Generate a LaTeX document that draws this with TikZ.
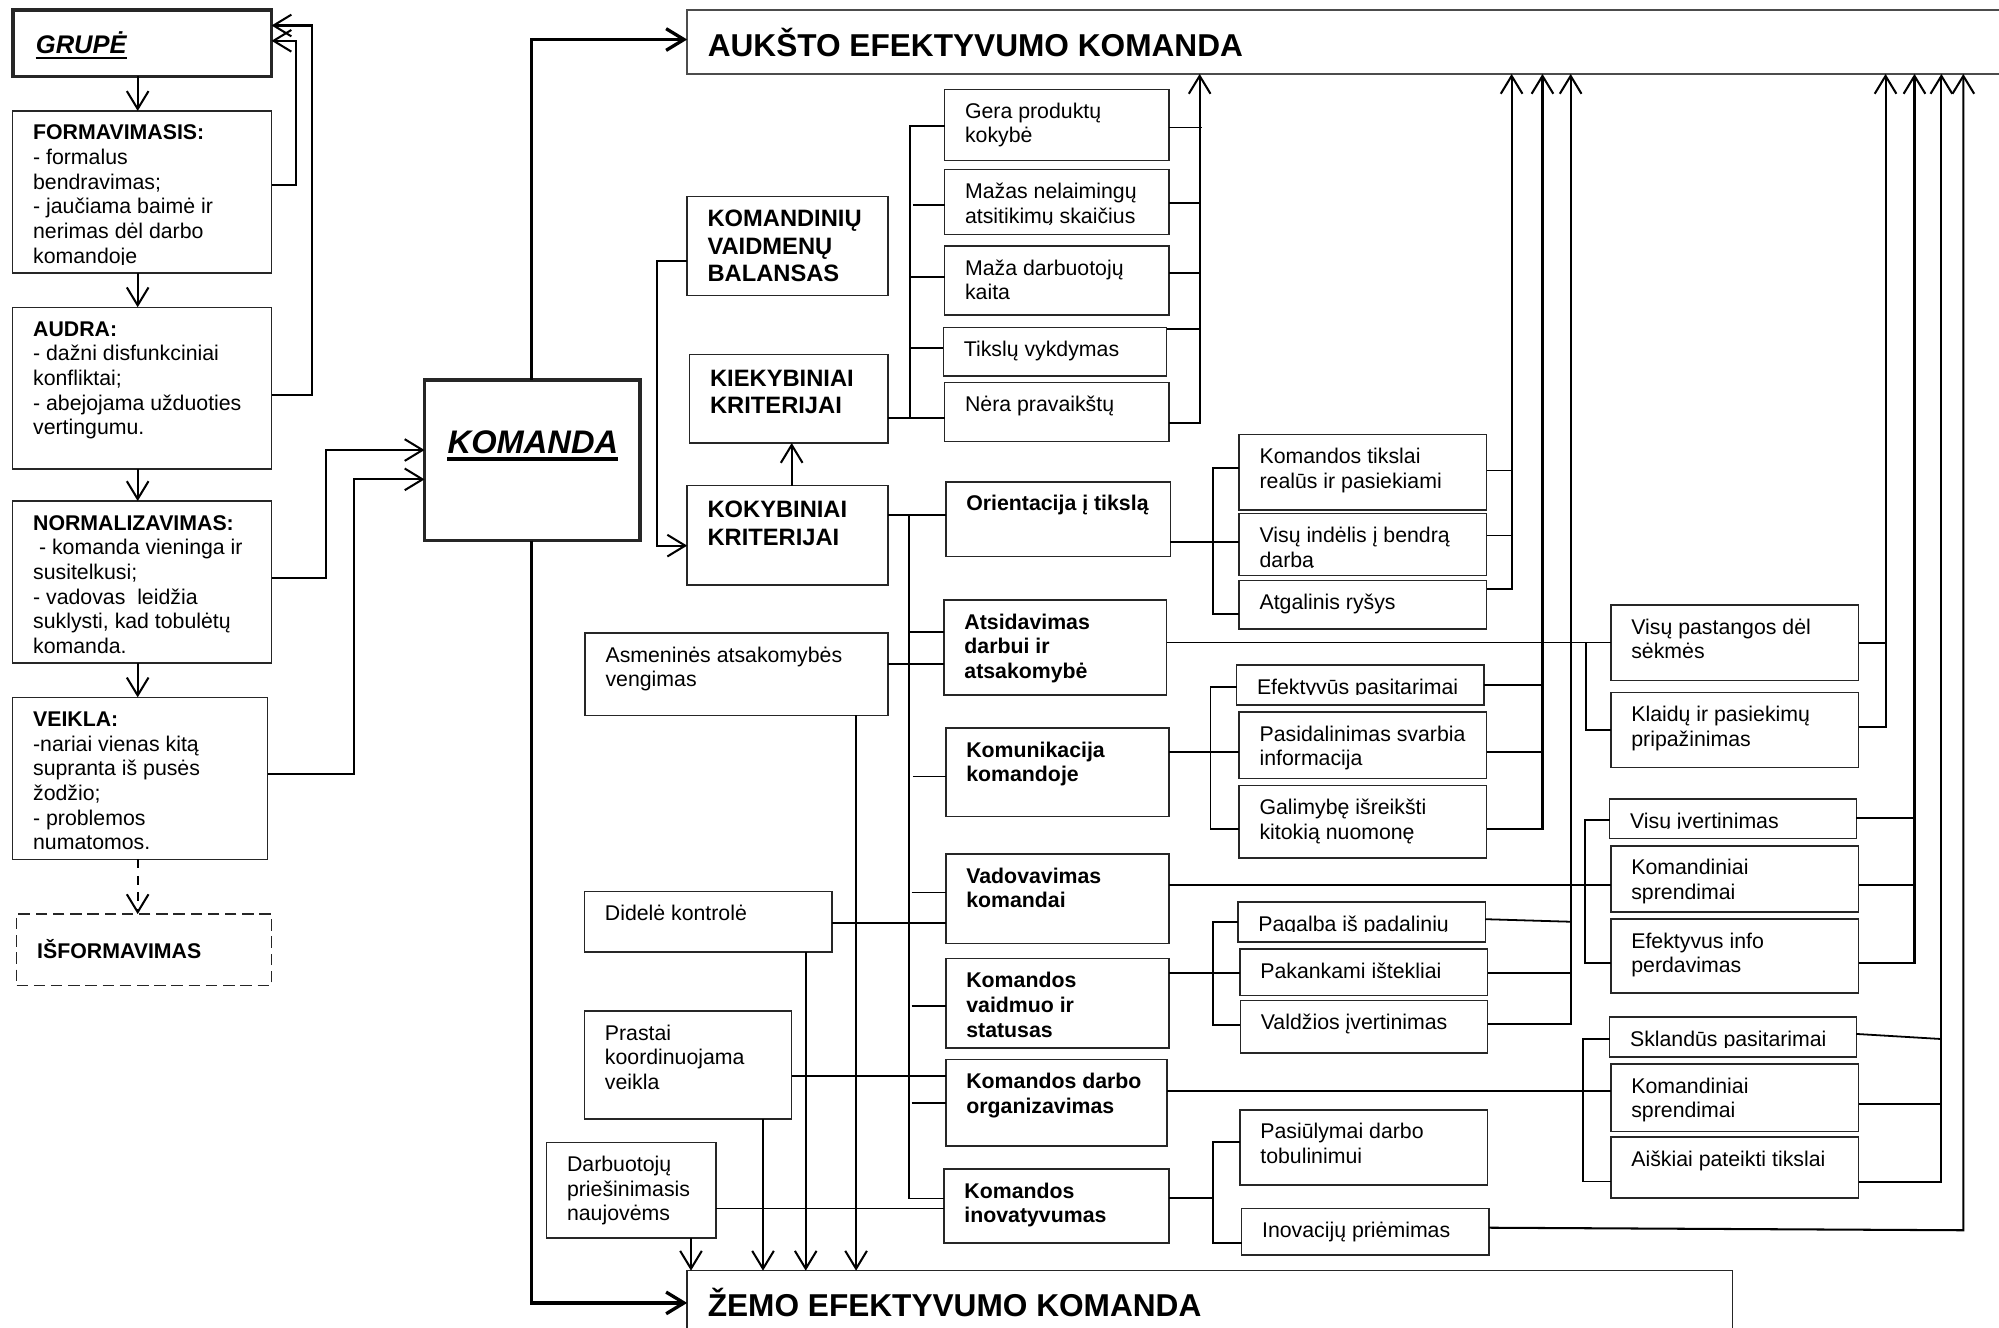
\documentclass[tikz,border=0pt]{standalone}
\usepackage{fontspec}
\setmainfont{Liberation Sans}
\usetikzlibrary{arrows.meta,calc}

% font sizes
\newcommand\bodyf{\fontsize{16.7}{19.35}\selectfont}
\newcommand\headf{\fontsize{18.6}{21.5}\selectfont\bfseries}
\newcommand\bigf{\fontsize{24.8}{30}\selectfont\bfseries}

\tikzset{
  tx/.store in=\tX, ty/.store in=\tY, tf/.store in=\tF, clipin/.store in=\tC,
  box/.style={draw=black!85, line width=1.1pt, anchor=north west, inner sep=0pt,
              outer sep=0pt, tx=16, ty=6.8, tf=\bodyf, clipin=6.5},
  boxtext/.style={path picture={
     \clip ([yshift=\tC*1pt]path picture bounding box.south west) rectangle
           (path picture bounding box.north east);
     \node[anchor=north west, inner sep=0pt, outer sep=0pt, minimum width=0pt,
           minimum height=0pt, draw=none, align=left, font=\tF, path picture={}]
       at ([xshift=\tX*1pt, yshift=-\tY*1pt]path picture bounding box.north west)
       {\rule{0pt}{16pt}#1};
  }},
  link/.style={line width=1.4pt},
  arr/.style={line width=1.6pt, -{Straight Barb[length=14pt,width=17pt]}},
  thickarr/.style={line width=2.6pt, -{Straight Barb[length=14pt,width=17pt]}},
}

% \mkbox[options]{name}{x1}{y1}{x2}{y2}{text}
\newcommand\mkbox[7][]{\node[box,#1,minimum width={(#5-#3)*1pt},
  minimum height={(#6-#4)*1pt},boxtext={#7}] (#2) at (#3,#4) {};}

\begin{document}
\begin{tikzpicture}[x=1pt,y=-1pt]
\useasboundingbox (0,0) rectangle (1568,1041);
\fill[white] (0,0) rectangle (1568,1041);
\clip (0,0) rectangle (1568,1041);

% ---------- group development stages ----------
\node[box, line width=3pt, minimum width=203pt, minimum height=52pt] (grupe) at (10,8) {};
\node[inner sep=0pt, anchor=base west, font=\fontsize{20}{24}\selectfont\bfseries\itshape]
  (grupetxt) at (28,41.8) {GRUPĖ};
\draw[line width=1.6pt] ([yshift=-4pt]grupetxt.base west) -- ([yshift=-4pt]grupetxt.base east);

\mkbox{form}{10}{87}{213}{214}{\textbf{FORMAVIMASIS:}\\- formalus\\bendravimas;\\- jaučiama baimė ir\\nerimas dėl darbo\\komandoje}
\mkbox{audra}{10}{241}{213}{368}{\textbf{AUDRA:}\\- dažni disfunkciniai\\konfliktai;\\- abejojama užduoties\\vertingumu.}
\mkbox{norm}{10}{393}{213}{520}{\textbf{NORMALIZAVIMAS:}\\\ - komanda vieninga ir\\susitelkusi;\\- vadovas\ \ leidžia\\suklysti, kad tobulėtų\\komanda.}
\mkbox{veikla}{10}{547}{210}{674}{\textbf{VEIKLA:}\\-nariai vienas kitą\\supranta iš pusės\\žodžio;\\- problemos\\numatomos.}

\node[box, dash pattern=on 9pt off 4.5pt, minimum width=200pt, minimum height=56pt] (isf) at (13,717) {};
\node[inner sep=0pt, anchor=base west, font=\bodyf\bfseries] (isftxt) at (29,751.7) {IŠFORMAVIMAS};

% ---------- team ----------
\node[box, line width=3pt, minimum width=169pt, minimum height=126pt] (komanda) at (333,298) {};
\node[inner sep=0pt, anchor=base west, font=\fontsize{25.6}{30}\selectfont\bfseries\itshape]
  (komtxt) at (351,355.6) {KOMANDA};
\draw[line width=2.6pt] ([yshift=-4.4pt]komtxt.base west) -- ([yshift=-4.4pt]komtxt.base east);

% ---------- outcomes ----------
\node[box, draw=black!70, line width=1.2pt, minimum width=1100pt, minimum height=50pt] (aukst) at (539,8) {};
\node[inner sep=0pt, anchor=base west, font=\bigf] (aukstxt) at (555,44.4) {AUKŠTO EFEKTYVUMO KOMANDA};
\node[box, minimum width=820pt, minimum height=100pt] (zemo) at (539,996.7) {};
\node[inner sep=0pt, anchor=base west, font=\bigf] (zemotxt) at (555,1033) {ŽEMO EFEKTYVUMO KOMANDA};

% ---------- criteria ----------
\mkbox[tf=\headf, ty=8]{komvb}{539}{154}{696.5}{232}{KOMANDINIŲ\\VAIDMENŲ\\BALANSAS}
\mkbox[tf=\headf, ty=9]{kiek}{541}{278}{696.5}{347.5}{KIEKYBINIAI\\KRITERIJAI}
\mkbox[tf=\headf, ty=9]{koky}{539}{381}{696.5}{459}{KOKYBINIAI\\KRITERIJAI}

% quantitative
\mkbox{gera}{741}{70}{917}{126}{Gera produktų\\kokybė}
\mkbox[clipin=8]{mazas}{741}{133}{917}{184}{Mažas nelaimingų\\atsitikimų skaičius}
\mkbox{mazad}{741}{193}{917}{247}{Maža darbuotojų\\kaita}
\mkbox{tiks}{740}{257}{915}{295}{Tikslų vykdymas}
\mkbox{nera}{741}{300}{917}{346.5}{Nėra pravaikštų}

% qualitative
\mkbox[tf={\bodyf\bfseries}]{orient}{742}{378}{918}{436.6}{Orientacija į tikslą}
\mkbox[tf={\bodyf\bfseries}]{atsid}{740.5}{470.6}{915}{545}{Atsidavimas\\darbui ir\\atsakomybė}
\mkbox[tf={\bodyf\bfseries}]{komun}{742}{571}{917}{640.6}{Komunikacija\\komandoje}
\mkbox[tf={\bodyf\bfseries}]{vadov}{742}{670}{917}{740}{Vadovavimas\\komandai}
\mkbox[tf={\bodyf\bfseries}]{vaidm}{742}{752}{917}{822}{Komandos\\vaidmuo ir\\statusas}
\mkbox[tf={\bodyf\bfseries}]{organ}{742}{831}{915.5}{899}{Komandos darbo\\organizavimas}
\mkbox[tf={\bodyf\bfseries}]{inov}{740.5}{917}{917}{975}{Komandos\\inovatyvumas}

% negative factors
\mkbox{asmen}{459}{496.6}{696.5}{561}{Asmeninės atsakomybės\\vengimas}
\mkbox{didel}{458.5}{699.4}{652.6}{746.8}{Didelė kontrolė}
\mkbox{prast}{458.5}{793}{621}{877.7}{Prastai\\koordinuojama\\veikla}
\mkbox{darb}{428.8}{896}{561.6}{971}{Darbuotojų\\priešinimasis\\naujovėms}

% details
\mkbox{ktiksl}{972}{341}{1166}{400}{Komandos tikslai\\realūs ir pasiekiami}
\mkbox{visind}{972}{403}{1166}{451.5}{Visų indėlis į bendrą\\darbą}
\mkbox{atgal}{972}{455.5}{1166}{493.5}{Atgalinis ryšys}
\mkbox[clipin=8.5]{efpas}{970}{521.6}{1164}{553}{Efektyvūs pasitarimai}
\mkbox{pasid}{972}{558.6}{1166}{610.5}{Pasidalinimas svarbia\\informacija}
\mkbox{galim}{972}{616}{1166}{673}{Galimybę išreikšti\\kitokią nuomonę}
\mkbox[clipin=8.2]{pagal}{971}{707.6}{1165}{739}{Pagalba iš padalinių}
\mkbox{pakan}{972.6}{744.4}{1167}{781}{Pakankami ištekliai}
\mkbox{valdz}{973}{785}{1167}{826}{Valdžios įvertinimas}
\mkbox{pasiu}{972.6}{870.6}{1167}{929.4}{Pasiūlymai darbo\\tobulinimui}
\mkbox{inovp}{974}{948}{1168}{984.5}{Inovacijų priėmimas}
\mkbox{vispast}{1263.6}{474.7}{1458}{534}{Visų pastangos dėl\\sėkmės}
\mkbox{klaid}{1263.6}{543}{1458}{602}{Klaidų ir pasiekimų\\pripažinimas}
\mkbox[clipin=8]{visiv}{1262.6}{626.7}{1456}{657.5}{Visų įvertinimas}
\mkbox{ksp1}{1263.6}{663.5}{1458}{715.4}{Komandiniai\\sprendimai}
\mkbox{efinf}{1263.6}{720.8}{1458}{779}{Efektyvus info\\perdavimas}
\mkbox[clipin=7.5]{sklan}{1262.6}{797.7}{1456}{829}{Sklandūs pasitarimai}
\mkbox{ksp2}{1263.6}{834.6}{1458}{887.6}{Komandiniai\\sprendimai}
\mkbox{aisk}{1263.6}{891.8}{1458}{939.7}{Aiškiai pateikti tikslai}

% ---------- connectors: stages ----------
\draw[arr] (grupe.south -| 108,0) -- (form.north -| 108,0);
\draw[arr] (form.south -| 108,0) -- (audra.north -| 108,0);
\draw[arr] (audra.south -| 108,0) -- (norm.north -| 108,0);
\draw[arr] (norm.south -| 108,0) -- (veikla.north -| 108,0);
\draw[arr, dash pattern=on 7pt off 6pt] (veikla.south -| 108,0) -- (isf.north -| 108,0);
\draw[arr] (form.east |- 0,145) -| (232,32) -- (grupe.east |- 0,32);
\draw[arr] (audra.east |- 0,310) -| (245,20) -- (grupe.east |- 0,20);
\draw[arr] (norm.east |- 0,453) -| (256,353) -- (komanda.west |- 0,353);
\draw[arr] (veikla.east |- 0,607) -| (278,376) -- (komanda.west |- 0,376);

% team to outcomes
\draw[thickarr] (komanda.north -| 417,0) |- (aukst.west |- 0,31);
\draw[thickarr] (komanda.south -| 417,0) |- (zemo.west |- 0,1022);

% criteria
\draw[arr] (koky.north -| 621,0) -- (kiek.south -| 621,0);
\draw[arr] (komvb.west |- 0,205) -| (515,428) -- (koky.west |- 0,428);

% quantitative bus
\draw[link] (kiek.east |- 0,328) -- (nera.west |- 0,328);
\draw[link] (gera.west |- 0,99) -| (714,328);
\draw[link] (716,161) -- (mazas.west |- 0,161);
\draw[link] (714,217) -- (mazad.west |- 0,217);
\draw[link] (714,273) -- (tiks.west |- 0,273);
\draw[link] (gera.east |- 0,100) -- (943,100);
\draw[link] (mazas.east |- 0,159) -- (941,159);
\draw[link] (mazad.east |- 0,214) -- (941,214);
\draw[link] (tiks.east |- 0,258) -- (941,258);
\draw[arr] (nera.east |- 0,332) -| (aukst.south -| 941,0);

% qualitative bus
\draw[link] (koky.east |- 0,404) -- (orient.west |- 0,404);
\draw[link] (713,404) -- (713,940) -- (inov.west |- 0,940);
\draw[link] (713,496) -- (atsid.west |- 0,496);
\draw[link] (716,609) -- (komun.west |- 0,609);
\draw[link] (715,700) -- (vadov.west |- 0,700);
\draw[link] (715,789) -- (vaidm.west |- 0,789);
\draw[link] (715,865) -- (organ.west |- 0,865);

% negative factors
\draw[link] (asmen.east |- 0,521) -- (atsid.west |- 0,521);
\draw[arr] (asmen.south -| 671.5,0) -- (zemo.north -| 671.5,0);
\draw[link] (didel.east |- 0,724) -- (vadov.west |- 0,724);
\draw[arr] (didel.south -| 632,0) -- (zemo.north -| 632,0);
\draw[link] (prast.east |- 0,844) -- (organ.west |- 0,844);
\draw[arr] (prast.south -| 598.5,0) -- (zemo.north -| 598.5,0);
\draw[link] (darb.east |- 0,948) -- (inov.west |- 0,948);
\draw[arr] (darb.south -| 542,0) -- (zemo.north -| 542,0);

% goal orientation
\draw[link] (orient.east |- 0,425) -- (visind.west |- 0,425);
\draw[link] (ktiksl.west |- 0,367) -| (951.6,481.6) -- (atgal.west |- 0,481.6);
\draw[link] (ktiksl.east |- 0,369) -- (1185.7,369);
\draw[link] (visind.east |- 0,420) -- (1185.7,420);
\draw[arr] (atgal.east |- 0,462) -| (aukst.south -| 1185.7,0);

% communication
\draw[link] (komun.east |- 0,589.6) -- (pasid.west |- 0,589.6);
\draw[link] (efpas.west |- 0,538.6) -| (949.5,650) -- (galim.west |- 0,650);
\draw[link] (efpas.east |- 0,537) -- (1209.9,537);
\draw[link] (pasid.east |- 0,589.6) -- (1209.9,589.6);
\draw[arr] (galim.east |- 0,650) -| (aukst.south -| 1209.9,0);

% role and status
\draw[link] (vaidm.east |- 0,763) -- (pakan.west |- 0,763);
\draw[link] (pagal.west |- 0,723) -| (951.6,804) -- (valdz.west |- 0,804);
\draw[link] (pagal.east |- 0,721) -- (1232,723);
\draw[link] (pakan.east |- 0,763) -- (1232,763);
\draw[arr] (valdz.east |- 0,803) -| (aukst.south -| 1232,0);

% innovation
\draw[link] (inov.east |- 0,939.7) -- (951.6,939.7);
\draw[link] (pasiu.west |- 0,896) -| (951.6,975) -- (inovp.west |- 0,975);
\draw[arr] (inovp.east |- 0,963) -- (1540,965) -- (aukst.south -| 1540,0);

% commitment
\draw[link] (atsid.east |- 0,504) -- (vispast.west |- 0,504);
\draw[link] (1244,504) |- (klaid.west |- 0,572.6);
\draw[link] (vispast.east |- 0,504.5) -- (1479,504.5);
\draw[arr] (klaid.east |- 0,570) -| (aukst.south -| 1479,0);

% leadership
\draw[link] (vadov.east |- 0,694) -- (ksp1.west |- 0,694);
\draw[link] (visiv.west |- 0,643) -| (1243,755.5) -- (efinf.west |- 0,755.5);
\draw[link] (visiv.east |- 0,641.7) -- (1501.7,641.7);
\draw[link] (ksp1.east |- 0,694) -- (1501.7,694);
\draw[arr] (efinf.east |- 0,755.5) -| (aukst.south -| 1501.7,0);

% work organisation
\draw[link] (organ.east |- 0,855.8) -- (ksp2.west |- 0,855.8);
\draw[link] (sklan.west |- 0,815) -| (1241.7,926.8) -- (aisk.west |- 0,926.8);
\draw[link] (sklan.east |- 0,811) -- (1522.8,815);
\draw[link] (ksp2.east |- 0,866) -- (1522.8,866);
\draw[arr] (aisk.east |- 0,927) -| (aukst.south -| 1522.8,0);
\end{tikzpicture}
\end{document}
